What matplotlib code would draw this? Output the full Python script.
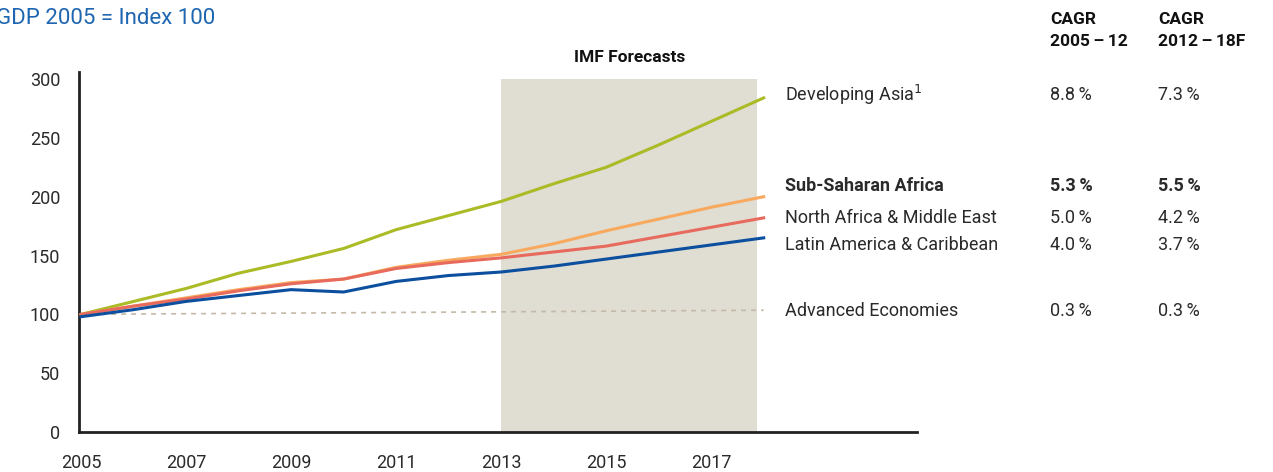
import matplotlib
matplotlib.use("Agg")
import matplotlib.pyplot as plt

plt.rcParams['font.family'] = ['Roboto', 'DejaVu Sans']

years = [2005, 2006, 2007, 2008, 2009, 2010, 2011, 2012, 2013, 2014, 2015, 2016, 2017, 2018]
dev_asia = [100, 111, 122, 135, 145, 156, 172, 184, 196, 211, 225, 244, 264, 284]
ssa = [100, 107, 114, 121, 127, 130, 140, 146, 151, 160, 171, 181, 191, 200]
mena = [100, 107, 113, 120, 126, 130, 139, 144, 148, 153, 158, 166, 174, 182]
latam = [98, 104, 111, 116, 121, 119, 128, 133, 136, 141, 147, 153, 159, 165]
adv_years = [2005, 2018]
adv = [100, 103.5]

regions = ["Developing Asia$^{1}$", "Sub-Saharan Africa", "North Africa & Middle East",
           "Latin America & Caribbean", "Advanced Economies"]
cagr_05_12 = ["8.8\u2009%", "5.3\u2009%", "5.0\u2009%", "4.0\u2009%", "0.3\u2009%"]
cagr_12_18 = ["7.3\u2009%", "5.5\u2009%", "4.2\u2009%", "3.7\u2009%", "0.3\u2009%"]
label_y = [95, 186, 218, 245, 311]  # pixel rows of the side table

W, H = 1273, 472
fig = plt.figure(figsize=(W / 100, H / 100), dpi=100)
ax = fig.add_axes([79 / W, 1 - 432 / H, (917 - 79) / W, (432 - 72) / H])

ax.axvspan(2013, 2017.88, ymin=0, ymax=300 / 306, color='#e0ddd3', lw=0, zorder=0)
ax.plot(adv_years, adv, color='#c4b9a8', lw=1.2, ls=(0, (3, 3)), zorder=2)
ax.plot(years, dev_asia, color='#abbb26', lw=2.2, zorder=3)
ax.plot(years, ssa, color='#f8a95e', lw=2.2, zorder=3)
ax.plot(years, mena, color='#e76a5c', lw=2.2, zorder=3)
ax.plot(years, latam, color='#0b4f9e', lw=2.2, zorder=4)

ax.set_xlim(2004.96, 2020.92)
ax.set_ylim(0, 306)
ax.set_yticks([0, 50, 100, 150, 200, 250, 300])
ax.set_xticks([2005, 2007, 2009, 2011, 2013, 2015, 2017])
ax.tick_params(length=0, labelsize=13, colors='#2a2a2a')
ax.tick_params(axis='y', pad=13.5)
ax.tick_params(axis='x', pad=16)
for s in ['top', 'right']:
    ax.spines[s].set_visible(False)
for s in ['left', 'bottom']:
    ax.spines[s].set_linewidth(2)
    ax.spines[s].set_color('#222222')


def ft(x, y, s, **kw):
    fig.text(x / W, 1 - y / H, s, va='center', **kw)


ft(-4, 19, "GDP 2005 = Index 100", color='#1f66b0', fontsize=16)
ft(630, 58, "IMF Forecasts", ha='center', fontsize=12.5, fontweight='bold', color='#111111')
ft(1050, 30.5, "CAGR\n2005\u2009–\u200912", fontsize=12.5, fontweight='bold', color='#111111', linespacing=1.65)
ft(1158, 30.5, "CAGR\n2012\u2009–\u200918F", fontsize=12.5, fontweight='bold', color='#111111', linespacing=1.65)

for i, (name, a, b, y) in enumerate(zip(regions, cagr_05_12, cagr_12_18, label_y)):
    w = 'bold' if i == 1 else 'normal'
    ft(785, y, name, fontsize=13, fontweight=w, color='#2a2a2a')
    ft(1050, y, a, fontsize=13, fontweight=w, color='#2a2a2a')
    ft(1158, y, b, fontsize=13, fontweight=w, color='#2a2a2a')

fig.savefig("out.png", dpi=100)
